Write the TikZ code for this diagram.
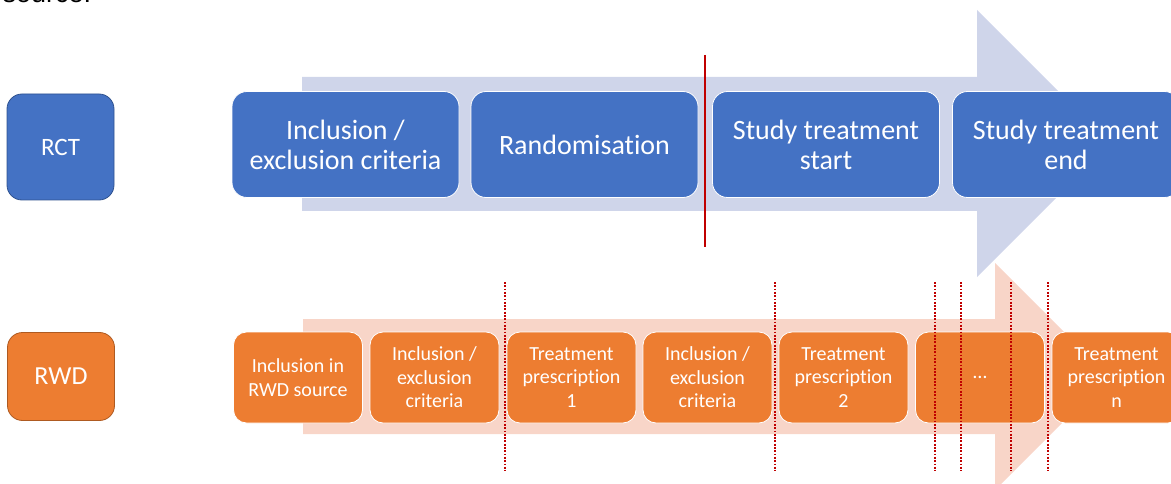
\documentclass[tikz,border=0pt]{standalone}
\usepackage{fontspec}
\setmainfont{Carlito}[Ligatures=NoCommon]
\newfontfamily\captionfont{Liberation Sans}
\definecolor{rctblue}{RGB}{68,114,196}
\definecolor{rctedge}{RGB}{47,82,143}
\definecolor{rctarrow}{RGB}{207,213,234}
\definecolor{rwdorange}{RGB}{237,125,49}
\definecolor{rwdedge}{RGB}{174,90,33}
\definecolor{rwdarrow}{RGB}{248,213,200}
\definecolor{cutred}{RGB}{192,0,0}

\begin{document}
\begin{tikzpicture}[x=1pt,y=1pt,yscale=-1,xscale=1,
  rctstep/.style={draw=white, line width=0.8pt, fill=rctblue, rounded corners=15pt, text=white, align=center, inner sep=0pt, outer sep=0pt, minimum width=227pt, minimum height=106pt, font=\fontsize{28}{30}\selectfont},
  rwdstep/.style={draw=white, line width=0.8pt, fill=rwdorange, rounded corners=13pt, text=white, align=center, inner sep=0pt, outer sep=0pt, minimum width=129pt, minimum height=91pt, font=\fontsize{20}{23.5}\selectfont},
  rowlabel/.style={rounded corners=15pt, text=white, inner sep=0pt, outer sep=0pt, line width=0.8pt, minimum width=107pt},
  cutline/.style={draw=cutred, line width=2pt},
  cutdots/.style={draw=cutred, line width=2.2pt, dash pattern=on 1.8pt off 1.5pt}]
\useasboundingbox (0,0) rectangle (1171,484);

%cut-off caption above
\node (caption) [anchor=base west, font=\captionfont\fontsize{27}{30}\selectfont] at (-1,3) {source.};

%RCT arrow
\fill [rctarrow] (302,77) -- (977,77) -- (977,10) -- (1110.5,143.5) -- (977,277) -- (977,211) -- (302,211) -- cycle ;

%RWD arrow
\fill [rwdarrow] (303,319) -- (995,319) -- (995,263) -- (1108.5,376.5) -- (995,490) -- (995,434) -- (303,434) -- cycle ;

%Row labels
\node (rct) [rowlabel, draw=rctedge, fill=rctblue, minimum height=106pt, font=\fontsize{25}{28}\selectfont] at (60.5,147) {RCT};
\node (rwd) [rowlabel, draw=rwdedge, fill=rwdorange, minimum height=88pt, font=\fontsize{26}{28}\selectfont] at (61,376.5) {RWD};

%RCT steps
\node (rctincl) [rctstep] at (345.5,144.5) {Inclusion /\\exclusion criteria};
\node (rctrand) [rctstep] at (584.5,144.5) {Randomisation};
\node (rctstart) [rctstep] at (826,144.5) {Study treatment\\start};
\node (rctend) [rctstep] at (1066,144.5) {Study treatment\\end};

%RWD steps
\node (rwdsource) [rwdstep] at (298,377.5) {Inclusion in\\RWD source};
\node (rwdinclA) [rwdstep] at (434.5,377.5) {Inclusion /\\exclusion\\criteria};
\node (rwdpresA) [rwdstep] at (571.5,377.5) {Treatment\\prescription\\1};
\node (rwdinclB) [rwdstep] at (707.5,377.5) {Inclusion /\\exclusion\\criteria};
\node (rwdpresB) [rwdstep] at (843.5,377.5) {Treatment\\prescription\\2};
\node (rwddots) [rwdstep] at (980,377.5) {…};
\node (rwdpresN) [rwdstep] at (1116.5,377.5) {Treatment\\prescription\\n};

%Randomisation cut
\draw [cutline] (705,55) -- (705,247) ;

%Prescription cuts
\draw [cutdots] (505,282) -- (505,471) ;
\draw [cutdots] (775,282) -- (775,471) ;
\draw [cutdots] (935,282) -- (935,471) ;
\draw [cutdots] (961,282) -- (961,471) ;
\draw [cutdots] (1011,282) -- (1011,471) ;
\draw [cutdots] (1048,282) -- (1048,471) ;

\end{tikzpicture}
\end{document}
